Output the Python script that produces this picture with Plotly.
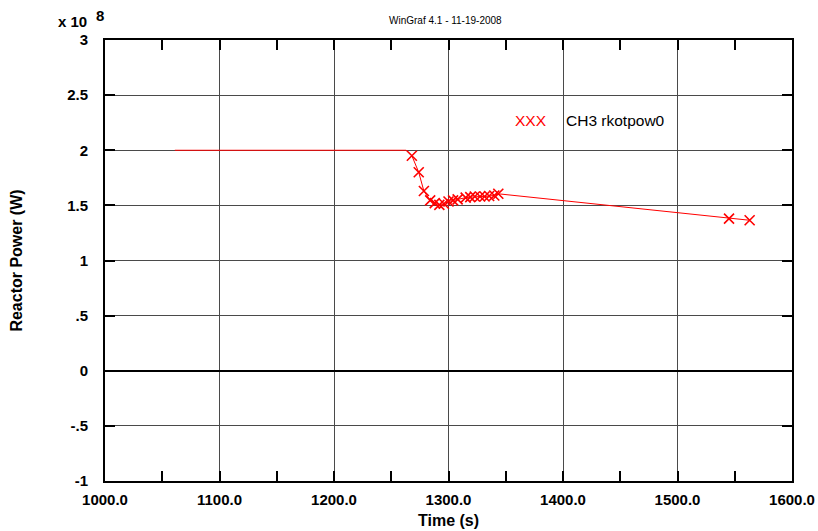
import plotly.graph_objects as go

# Reactor power trace, in units of 1e8 W
time_s = [1061, 1263, 1268, 1274, 1278.5, 1284, 1288, 1292, 1296, 1300, 1304, 1308,
          1315, 1319, 1323, 1327.5, 1331.5, 1335.5, 1340, 1343.5, 1545, 1563]
power_e8 = [2.0, 2.0, 1.95, 1.80, 1.63, 1.545, 1.52, 1.505, 1.515, 1.535, 1.545, 1.555,
            1.57, 1.575, 1.58, 1.58, 1.58, 1.585, 1.59, 1.605, 1.38, 1.365]
first_marked = 2  # samples drawn with an X marker start here

x_ticks = [1000, 1100, 1200, 1300, 1400, 1500, 1600]
x_tick_text = ["1000.0", "1100.0", "1200.0", "1300.0", "1400.0", "1500.0", "1600.0"]
y_ticks = [-1, -0.5, 0, 0.5, 1, 1.5, 2, 2.5, 3]
y_tick_text = ["-1", "-.5", "0", ".5", "1", "1.5", "2", "2.5", "3"]

RED = "#ff0000"
FONT = "Liberation Sans, Arial, sans-serif"
W, H = 818, 531
ML, MR, MT, MB = 105, 26, 40, 50

fig = go.Figure()
fig.add_trace(go.Scatter(
    x=time_s, y=power_e8, mode="lines",
    line=dict(color=RED, width=1), showlegend=False, hoverinfo="skip"))
fig.add_trace(go.Scatter(
    x=time_s[first_marked:], y=power_e8[first_marked:], mode="markers",
    marker=dict(symbol="x-thin", size=10, line=dict(color=RED, width=1.6)),
    name="CH3 rkotpow0", showlegend=False))
# invisible trace that carries the top axis (ticks every 50 s)
fig.add_trace(go.Scatter(x=[time_s[0]], y=[power_e8[0]], xaxis="x2", mode="markers",
                         marker=dict(opacity=0), showlegend=False, hoverinfo="skip"))

tick_font = dict(family=FONT, size=15, color="black", weight="bold")
title_font = dict(family=FONT, size=16, color="black", weight="bold")

fig.update_layout(
    xaxis=dict(
        range=[1000, 1600], tickmode="array", tickvals=x_ticks, ticktext=x_tick_text,
        showline=True, linecolor="black", linewidth=2, mirror=True,
        ticks="inside", ticklen=10, tickcolor="black", tickwidth=2,
        minor=dict(dtick=50, tick0=1000, ticks="inside", ticklen=10, tickcolor="black",
                   tickwidth=2, showgrid=False),
        showgrid=True, gridcolor="#4a4a4a", gridwidth=1, zeroline=False,
        tickfont=tick_font, ticklabelstandoff=4, automargin=False,
        title=dict(text="Time (s)", font=title_font, standoff=8),
    ),
    xaxis2=dict(
        range=[1000, 1600], overlaying="x", side="top", dtick=50, tick0=1000,
        ticks="inside", ticklen=10, tickcolor="black", tickwidth=2,
        showticklabels=False, showgrid=False, zeroline=False, showline=False,
        automargin=False,
    ),
    yaxis=dict(
        range=[-1, 3], tickmode="array", tickvals=y_ticks, ticktext=y_tick_text,
        showline=True, linecolor="black", linewidth=2, mirror="ticks",
        ticks="inside", ticklen=10, tickcolor="black", tickwidth=2,
        showgrid=True, gridcolor="#4a4a4a", gridwidth=1,
        zeroline=True, zerolinecolor="black", zerolinewidth=2,
        tickfont=tick_font, ticklabelstandoff=12, automargin=False,
        title=dict(text="Reactor Power (W)", font=title_font, standoff=41),
    ),
    width=W, height=531,
    margin=dict(l=ML, r=MR, t=MT, b=MB),
    paper_bgcolor="white", plot_bgcolor="white",
    font=dict(family=FONT, color="black"),
)


def px_to_paper(px, py):
    """Pixel position (from top-left of the figure) -> paper coordinates of the plot area."""
    return (px - ML) / (W - ML - MR), (H - MB - py) / (H - MT - MB)


def label(text, px, py, anchor, size, color="black", bold=False):
    x, y = px_to_paper(px, py)
    font = dict(family=FONT, size=size, color=color)
    if bold:
        font["weight"] = "bold"
    fig.add_annotation(text=text, x=x, y=y, xref="paper", yref="paper", showarrow=False,
                       xanchor=anchor, yanchor="middle", font=font)


label("WinGraf 4.1 - 11-19-2008", 445, 20, "center", 10)
label("x 10", 89, 21, "right", 15, bold=True)
label("8", 100, 16, "center", 15, bold=True)
label("XXX", 549, 121, "right", 15.5, color=RED)
label("CH3 rkotpow0", 564, 121, "left", 15.5)

fig.write_html("out.html")
